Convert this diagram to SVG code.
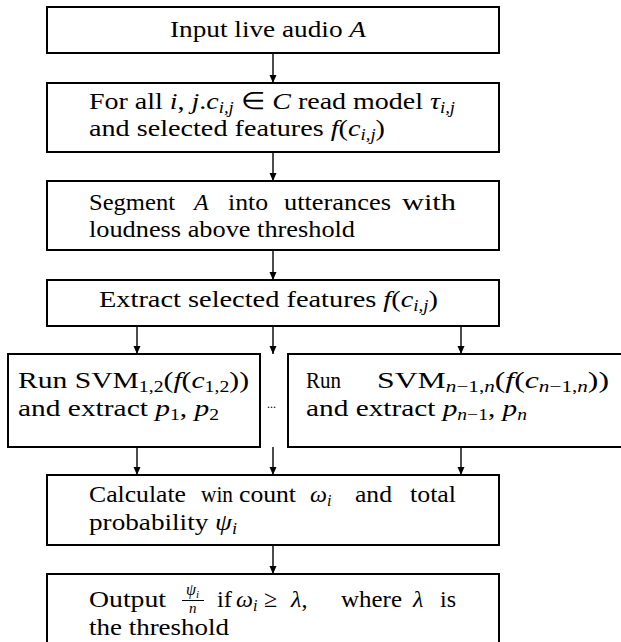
<svg xmlns="http://www.w3.org/2000/svg" width="621" height="642" viewBox="0 0 621 642" xml:lang="en">
<style>
text,tspan{font-family:'Liberation Serif','Times New Roman',Tinos,serif}
.box{fill:#fff;stroke:#000;stroke-width:2}
.i{font-style:italic}
</style>
<defs>
<marker id="ah" markerUnits="userSpaceOnUse" markerWidth="8" markerHeight="10" refX="8" refY="3.5" orient="auto">
<path d="M0,0 L8,3.5 L0,7 Z" fill="#000"/>
</marker>
</defs>
<rect width="621" height="642" fill="#fff"/>
<g id="connectors" stroke="#000" stroke-width="1.4" fill="none" marker-end="url(#ah)">
<line x1="273" y1="53" x2="273" y2="83"/>
<line x1="273" y1="152" x2="273" y2="181"/>
<line x1="273" y1="250" x2="273" y2="280"/>
<line x1="137" y1="326" x2="137" y2="354"/>
<line x1="273" y1="326" x2="273" y2="354"/>
<line x1="461" y1="326" x2="461" y2="354"/>
<line x1="137" y1="447" x2="137" y2="475"/>
<line x1="273" y1="447" x2="273" y2="475"/>
<line x1="461" y1="447" x2="461" y2="475"/>
<line x1="273" y1="545" x2="273" y2="574"/>
</g>
<g font-family="Liberation Serif" font-size="24" fill="#000">
<text x="267" y="408" font-size="12">...</text>
<g id="input">
<rect class="box" x="47" y="7" width="452" height="46"/>
<text x="170" y="37" textLength="196" lengthAdjust="spacingAndGlyphs">Input live audio <tspan class="i">A</tspan></text>
</g>
<g id="read">
<rect class="box" x="47" y="83" width="452" height="69"/>
<text x="89" y="109" textLength="366" lengthAdjust="spacingAndGlyphs">For all <tspan class="i">i</tspan>, <tspan class="i">j</tspan>.<tspan class="i">c</tspan><tspan font-size="16" class="i" dy="4">i,j</tspan><tspan dy="-4"> &#8712; </tspan><tspan class="i">C</tspan> read model <tspan class="i">&#964;</tspan><tspan font-size="16" class="i" dy="4">i,j</tspan></text>
<text x="89" y="136" textLength="296" lengthAdjust="spacingAndGlyphs">and selected features <tspan class="i">f</tspan>(<tspan class="i">c</tspan><tspan font-size="16" class="i" dy="4">i,j</tspan><tspan dy="-4">)</tspan></text>
</g>
<g id="segment">
<rect class="box" x="47" y="181" width="452" height="69"/>
<text x="89" y="210" textLength="86" lengthAdjust="spacingAndGlyphs">Segment</text>
<text x="194" y="210" class="i">A</text>
<text x="228" y="210" textLength="40" lengthAdjust="spacingAndGlyphs">into</text>
<text x="284" y="210" textLength="107" lengthAdjust="spacingAndGlyphs">utterances</text>
<text x="402" y="210" textLength="54" lengthAdjust="spacingAndGlyphs">with</text>
<text x="89" y="237" textLength="266" lengthAdjust="spacingAndGlyphs">loudness above threshold</text>
</g>
<g id="extract">
<rect class="box" x="47" y="280" width="452" height="46"/>
<text x="99" y="307" textLength="339" lengthAdjust="spacingAndGlyphs">Extract selected features <tspan class="i">f</tspan>(<tspan class="i">c</tspan><tspan font-size="16" class="i" dy="4">i,j</tspan><tspan dy="-4">)</tspan></text>
</g>
<g id="svm1">
<rect class="box" x="8" y="354" width="252" height="93"/>
<text x="18" y="388" textLength="231" lengthAdjust="spacingAndGlyphs">Run SVM<tspan font-size="16" dy="4">1,2</tspan><tspan dy="-4">(</tspan><tspan class="i">f</tspan>(<tspan class="i">c</tspan><tspan font-size="16" dy="4">1,2</tspan><tspan dy="-4">))</tspan></text>
<text x="18" y="416" textLength="201" lengthAdjust="spacingAndGlyphs">and extract <tspan class="i">p</tspan><tspan font-size="16" dy="4">1</tspan><tspan dy="-4">, </tspan><tspan class="i">p</tspan><tspan font-size="16" dy="4">2</tspan></text>
</g>
<g id="svmn">
<rect class="box" x="288" y="354" width="360" height="93"/>
<text x="306" y="388" textLength="35" lengthAdjust="spacingAndGlyphs">Run</text>
<text x="377" y="388" textLength="232" lengthAdjust="spacingAndGlyphs">SVM<tspan font-size="16" dy="4"><tspan class="i">n</tspan>&#8722;1,<tspan class="i">n</tspan></tspan><tspan dy="-4">(</tspan><tspan class="i">f</tspan>(<tspan class="i">c</tspan><tspan font-size="16" dy="4"><tspan class="i">n</tspan>&#8722;1,<tspan class="i">n</tspan></tspan><tspan dy="-4">))</tspan></text>
<text x="306" y="416" textLength="221" lengthAdjust="spacingAndGlyphs">and extract <tspan class="i">p</tspan><tspan font-size="16" dy="4"><tspan class="i">n</tspan>&#8722;1</tspan><tspan dy="-4">, </tspan><tspan class="i">p</tspan><tspan font-size="16" class="i" dy="4">n</tspan></text>
</g>
<g id="calculate">
<rect class="box" x="47" y="475" width="452" height="70"/>
<text x="89" y="502" textLength="97" lengthAdjust="spacingAndGlyphs">Calculate</text>
<text x="201" y="502" textLength="32" lengthAdjust="spacingAndGlyphs">win</text>
<text x="239" y="502" textLength="57" lengthAdjust="spacingAndGlyphs">count</text>
<text x="310" y="502"><tspan class="i">&#969;</tspan><tspan font-size="16" class="i" dy="4">i</tspan></text>
<text x="355" y="502" textLength="37" lengthAdjust="spacingAndGlyphs">and</text>
<text x="410" y="502" textLength="46" lengthAdjust="spacingAndGlyphs">total</text>
<text x="89" y="530" textLength="148" lengthAdjust="spacingAndGlyphs">probability <tspan class="i">&#968;</tspan><tspan font-size="16" class="i" dy="4">i</tspan></text>
</g>
<g id="output">
<rect class="box" x="47" y="574" width="452" height="100"/>
<text x="89" y="607" textLength="77" lengthAdjust="spacingAndGlyphs">Output</text>
<text x="186" y="595" font-size="16" class="i">&#968;<tspan font-size="11" dy="3">i</tspan></text>
<line x1="182" y1="600.5" x2="204" y2="600.5" stroke="#000" stroke-width="1"/>
<text x="189" y="613" font-size="15" class="i">n</text>
<text x="217" y="607" textLength="15" lengthAdjust="spacingAndGlyphs">if</text>
<text x="236" y="607"><tspan class="i">&#969;</tspan><tspan font-size="16" class="i" dy="4">i</tspan></text>
<text x="264" y="607">&#8805;</text>
<text x="291" y="607"><tspan class="i">&#955;</tspan>,</text>
<text x="341" y="607" textLength="61" lengthAdjust="spacingAndGlyphs">where</text>
<text x="413" y="607" class="i">&#955;</text>
<text x="440" y="607" textLength="16" lengthAdjust="spacingAndGlyphs">is</text>
<text x="89" y="635" textLength="140" lengthAdjust="spacingAndGlyphs">the threshold</text>
</g>
</g>
</svg>
